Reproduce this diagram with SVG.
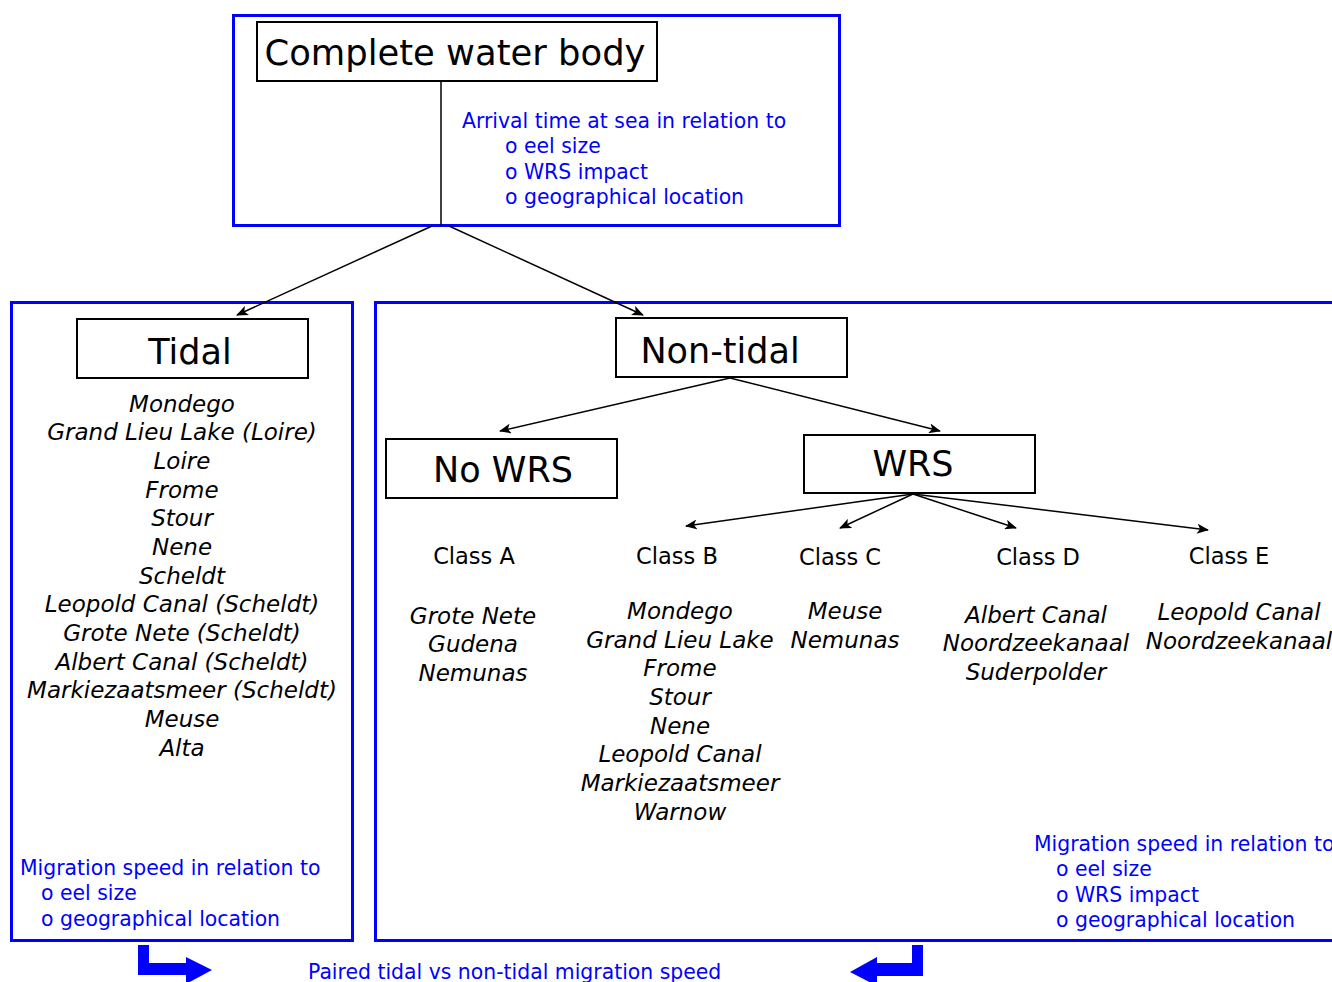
<svg xmlns="http://www.w3.org/2000/svg" width="1332" height="982" viewBox="0 0 1332 982">
<defs>
<style>
text{font-family:"DejaVu Sans","Verdana",sans-serif;}
.frame{fill:none;stroke:#0000ff;stroke-width:3;}
.node{fill:#fff;stroke:#000;stroke-width:2;}
.big{font-size:35px;fill:#000;text-anchor:middle;}
.cls{font-size:22.5px;fill:#000;text-anchor:middle;}
.it{font-size:23px;fill:#000;font-style:italic;text-anchor:middle;}
.blue{font-size:20.4px;fill:#0000ff;}
.conn{stroke:#000;stroke-width:1.5;fill:none;marker-end:url(#ah);}
.barrow{fill:#0000ff;stroke:none;}
</style>
<marker id="ah" viewBox="0 0 12 10" refX="11" refY="5" markerWidth="12" markerHeight="10" markerUnits="userSpaceOnUse" orient="auto">
<path d="M0,0 L12,5 L0,10 L3,5 Z" fill="#000"/>
</marker>
</defs>
<rect width="1332" height="982" fill="#fff"/>

<g id="frame-top">
<rect class="frame" x="233.5" y="15.5" width="606" height="210"/>
</g>
<g id="frame-tidal">
<rect class="frame" x="11.5" y="302.5" width="341" height="638"/>
</g>
<g id="frame-nontidal">
<path class="frame" d="M1340,302.5 H375.5 V940.5 H1340"/>
</g>

<g id="connectors">
<line x1="441" y1="81" x2="441" y2="226" stroke="#000" stroke-width="1.5"/>
<line class="conn" x1="432" y1="226" x2="237" y2="315"/>
<line class="conn" x1="449" y1="226" x2="643" y2="315"/>
<line class="conn" x1="730" y1="378" x2="500" y2="431"/>
<line class="conn" x1="730" y1="378" x2="940" y2="431"/>
<line class="conn" x1="913" y1="494" x2="686" y2="526"/>
<line class="conn" x1="913" y1="494" x2="840" y2="528"/>
<line class="conn" x1="913" y1="494" x2="1016" y2="528"/>
<line class="conn" x1="913" y1="494" x2="1208" y2="530"/>
</g>

<g id="node-complete">
<rect class="node" x="257" y="22" width="400" height="59"/>
<text class="big" x="455" y="65" font-size="35.4" textLength="381" lengthAdjust="spacingAndGlyphs">Complete water body</text>
</g>
<g id="note-arrival">
<text class="blue" x="462" y="128">Arrival time at sea in relation to</text>
<text class="blue" x="505" y="153">o eel size</text>
<text class="blue" x="505" y="179">o WRS impact</text>
<text class="blue" x="505" y="204">o geographical location</text>
</g>

<g id="node-tidal">
<rect class="node" x="77" y="319" width="231" height="59"/>
<text class="big" x="190" y="364">Tidal</text>
</g>
<g id="list-tidal">
<text class="it" x="182" y="412">Mondego</text>
<text class="it" x="182" y="440">Grand Lieu Lake (Loire)</text>
<text class="it" x="182" y="469">Loire</text>
<text class="it" x="182" y="498">Frome</text>
<text class="it" x="182" y="526">Stour</text>
<text class="it" x="182" y="555">Nene</text>
<text class="it" x="182" y="584">Scheldt</text>
<text class="it" x="182" y="612">Leopold Canal (Scheldt)</text>
<text class="it" x="182" y="641">Grote Nete (Scheldt)</text>
<text class="it" x="182" y="670">Albert Canal (Scheldt)</text>
<text class="it" x="182" y="698">Markiezaatsmeer (Scheldt)</text>
<text class="it" x="182" y="727">Meuse</text>
<text class="it" x="182" y="756">Alta</text>
</g>
<g id="note-tidal">
<text class="blue" x="20" y="875">Migration speed in relation to</text>
<text class="blue" x="41" y="900">o eel size</text>
<text class="blue" x="41" y="926">o geographical location</text>
</g>

<g id="node-nontidal">
<rect class="node" x="616" y="318" width="231" height="59"/>
<text class="big" x="720" y="363">Non-tidal</text>
</g>
<g id="node-nowrs">
<rect class="node" x="386" y="439" width="231" height="59"/>
<text class="big" x="503" y="482">No WRS</text>
</g>
<g id="node-wrs">
<rect class="node" x="804" y="435" width="231" height="58"/>
<text class="big" x="913" y="476">WRS</text>
</g>

<g id="class-a">
<text class="cls" x="474" y="564">Class A</text>
<text class="it" x="473" y="624">Grote Nete</text>
<text class="it" x="473" y="652">Gudena</text>
<text class="it" x="473" y="681">Nemunas</text>
</g>
<g id="class-b">
<text class="cls" x="677" y="564">Class B</text>
<text class="it" x="680" y="619">Mondego</text>
<text class="it" x="680" y="648">Grand Lieu Lake</text>
<text class="it" x="680" y="676">Frome</text>
<text class="it" x="680" y="705">Stour</text>
<text class="it" x="680" y="734">Nene</text>
<text class="it" x="680" y="762">Leopold Canal</text>
<text class="it" x="680" y="791">Markiezaatsmeer</text>
<text class="it" x="680" y="820">Warnow</text>
</g>
<g id="class-c">
<text class="cls" x="840" y="565">Class C</text>
<text class="it" x="845" y="619">Meuse</text>
<text class="it" x="845" y="648">Nemunas</text>
</g>
<g id="class-d">
<text class="cls" x="1038" y="565">Class D</text>
<text class="it" x="1036" y="623">Albert Canal</text>
<text class="it" x="1036" y="651">Noordzeekanaal</text>
<text class="it" x="1036" y="680">Suderpolder</text>
</g>
<g id="class-e">
<text class="cls" x="1229" y="564">Class E</text>
<text class="it" x="1239" y="620">Leopold Canal</text>
<text class="it" x="1239" y="649">Noordzeekanaal</text>
</g>
<g id="note-nontidal">
<text class="blue" x="1034" y="851">Migration speed in relation to</text>
<text class="blue" x="1056" y="876">o eel size</text>
<text class="blue" x="1056" y="902">o WRS impact</text>
<text class="blue" x="1056" y="927">o geographical location</text>
</g>

<g id="paired">
<path class="barrow" d="M138,945 H149 V963 H186 V957 L212,970 L186,984 V975 H138 Z"/>
<path class="barrow" d="M923,945 H912 V963 H877 V957 L850,972 L877,986 V976 H923 Z"/>
<text class="blue" x="308" y="979">Paired tidal vs non-tidal migration speed</text>
</g>
</svg>
